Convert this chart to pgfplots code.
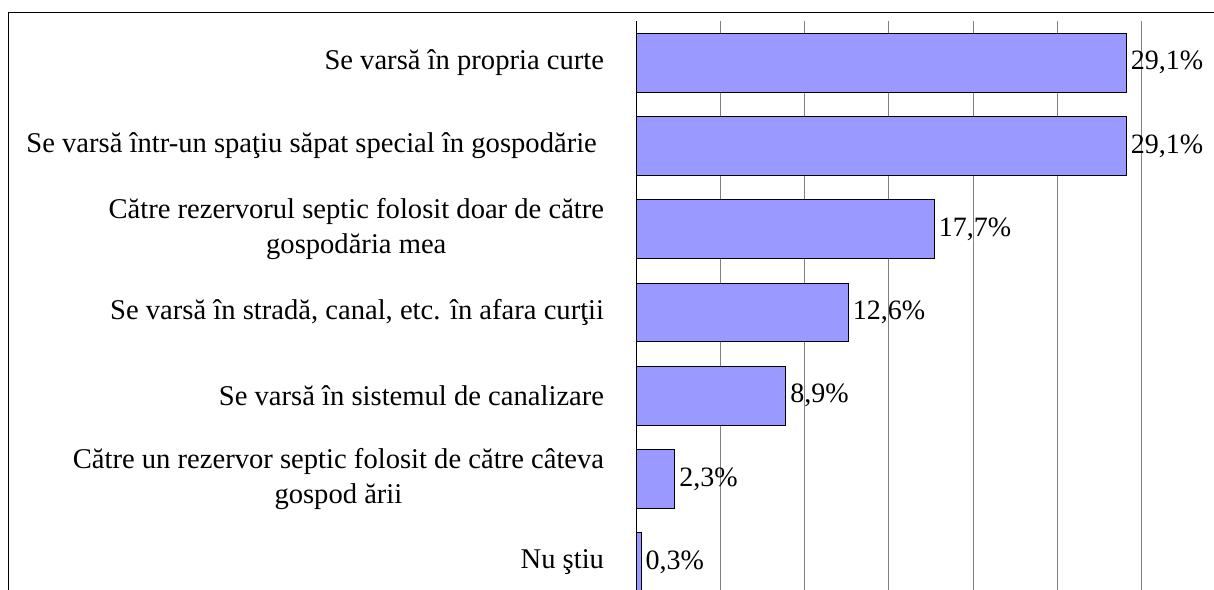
\documentclass[border=0pt]{standalone}
\usepackage{fontspec}
\setmainfont{Liberation Serif}
\usepackage{pgfplots}
\pgfplotsset{compat=1.18}
\definecolor{barblue}{HTML}{9999FF}
\definecolor{gridgray}{HTML}{808080}
\begin{document}
\begin{tikzpicture}
\begin{axis}[
  at={(318pt,-10.5pt)}, anchor=north west,
  scale only axis, width=294.9pt, height=291.5pt,
  xbar, bar width=0.708,
  xmin=0, xmax=35, ymin=-0.5, ymax=6.5, y dir=reverse,
  axis y line*=left, axis x line*=bottom,
  axis line style={-, line width=0.5pt, black},
  x axis line style={draw=none},
  xtick={5,10,...,35}, xticklabels={},
  xmajorgrids, grid style={gridgray, line width=0.5pt},
  xtick style={draw=none},
  ytick={0,...,6},
  yticklabels={
    Se varsă în propria curte,
    {Se varsă într-un spaţiu săpat special în gospodărie\ },
    {Către rezervorul septic folosit doar de către\\gospodăria mea},
    {Se varsă în stradă, canal, etc. în afara curţii},
    Se varsă în sistemul de canalizare,
    {Către un rezervor septic folosit de către câteva\\gospod ării},
    Nu ştiu},
  ytick style={draw=none},
  yticklabel style={align=center, font=\fontsize{14.3}{17.5}\selectfont,
    inner sep=0pt, anchor=east, xshift=-11.5pt},
  extra y ticks={-0.5,0.5,...,6.5}, extra y tick labels={},
  extra y tick style={tick align=outside, major tick length=4pt,
    tick style={draw=black, line width=0.5pt}},
  point meta=x,
  nodes near coords={\pgfmathprintnumber[fixed,fixed zerofill,precision=1,use comma,assume math mode=true]{\pgfplotspointmeta}\%},
  every node near coord/.append style={font=\fontsize{14}{16}\selectfont,
    inner sep=0pt, anchor=west, xshift=2pt, black},
]
\addplot[fill=barblue, draw=black, line width=0.5pt] coordinates {
  (29.1,0) (29.1,1) (17.7,2) (12.6,3) (8.9,4) (2.3,5) (0.3,6)};
\end{axis}
\draw[line width=0.5pt] (4.15pt,-300pt) -- (4.15pt,-6.35pt) -- (612pt,-6.35pt);
\pgfresetboundingbox
\path[use as bounding box] (0,0) rectangle (607pt,-294.5pt);
\end{tikzpicture}
\end{document}
